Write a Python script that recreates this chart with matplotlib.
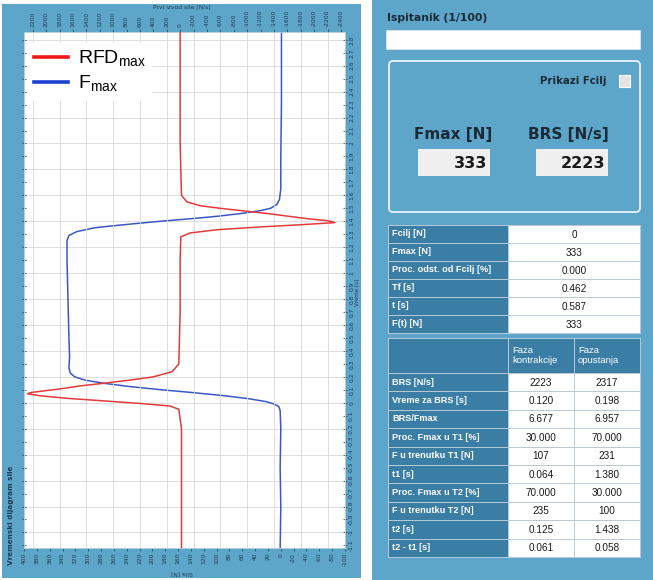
import matplotlib
matplotlib.use("Agg")
import matplotlib.pyplot as plt
from matplotlib.patches import Rectangle, FancyBboxPatch
from matplotlib.lines import Line2D
import numpy as np

# ---------------- data ----------------
# Force (blue) vs time
force_t = [-1.12, -0.8, -0.5, -0.2, -0.06, -0.03, -0.01, 0.01, 0.03, 0.05, 0.064, 0.08,
           0.10, 0.125, 0.15, 0.175, 0.20, 0.23, 0.27, 0.35, 0.5, 0.7, 0.9, 1.1, 1.25,
           1.29, 1.32, 1.35, 1.365, 1.38, 1.40, 1.42, 1.438, 1.46, 1.48, 1.50, 1.53,
           1.57, 1.65, 1.9, 2.3, 2.86]
force_v = [1, 0, 1, 0, 1, 3, 10, 24, 48, 80, 107, 140,
           185, 235, 275, 305, 321, 328, 330, 329, 330, 331, 332, 333, 333,
           330, 318, 290, 262, 231, 188, 140, 100, 62, 34, 16, 6,
           2, 0, 0, -1, -1]

# Rate of force development (red) vs time
rfd_t = [-1.12, -0.6, -0.2, -0.05, -0.025, -0.005, 0.015, 0.035, 0.055, 0.07, 0.08,
         0.095, 0.11, 0.13, 0.15, 0.175, 0.20, 0.24, 0.30, 0.7, 1.1, 1.28, 1.31,
         1.335, 1.355, 1.375, 1.39, 1.405, 1.42, 1.44, 1.46, 1.48, 1.50, 1.52,
         1.55, 1.60, 2.0, 2.86]
rfd_v = [-20, -20, -20, 20, 150, 600, 1150, 1700, 2100, 2280, 2220,
         1980, 1750, 1500, 1150, 750, 400, 120, 20, 0, 0, -10, -150,
         -550, -1150, -1850, -2310, -2200, -1900, -1600, -1300, -950, -600, -300,
         -100, -20, 0, 0]

force_ticks = list(range(-100, 401, 20))
rfd_ticks = list(range(-2400, 2201, 200))
time_ticks = [round(-1.1 + 0.1 * i, 1) for i in range(40)]
time_grid = [round(-1.0 + 0.2 * i, 1) for i in range(20)]
rfd_grid = list(range(-2200, 2201, 400))

legend_labels = [r"RFD$_{\mathrm{max}}$", r"F$_{\mathrm{max}}$"]

info_labels = ["Fcilj [N]", "Fmax [N]", "Proc. odst. od Fcilj [%]", "Tf [s]", "t [s]", "F(t) [N]"]
info_values = ["0", "333", "0.000", "0.462", "0.587", "333"]

phase_headers = ["Faza\nkontrakcije", "Faza\nopustanja"]
phase_labels = ["BRS [N/s]", "Vreme za BRS [s]", "BRS/Fmax", "Proc. Fmax u T1 [%]",
                "F u trenutku T1 [N]", "t1 [s]", "Proc. Fmax u T2 [%]",
                "F u trenutku T2 [N]", "t2 [s]", "t2 - t1 [s]"]
phase_contraction = ["2223", "0.120", "6.677", "30.000", "107", "0.064", "70.000", "235", "0.125", "0.061"]
phase_release = ["2317", "0.198", "6.957", "70.000", "231", "1.380", "30.000", "100", "1.438", "0.058"]

fmax_value = "333"
brs_value = "2223"

# ---------------- style ----------------
W, H = 653, 580
PANEL = "#5da5c9"
CELL = "#3a7ea6"
TXT = "#1c2a36"
TICK = "#1f3b55"
RED = "#e23a3a"
BLUE = "#3a58c4"

plt.rcParams["mathtext.fontset"] = "custom"
plt.rcParams["mathtext.rm"] = "Liberation Sans"

fig = plt.figure(figsize=(W / 100, H / 100), dpi=100, facecolor="white")

# background overlay in pixel coordinates
bg = fig.add_axes([0, 0, 1, 1], zorder=0)
bg.set_xlim(0, W)
bg.set_ylim(H, 0)
bg.axis("off")

bg.add_patch(Rectangle((2, 4), 359, 574, facecolor=PANEL, edgecolor="none"))
bg.add_patch(Rectangle((372, 0), 281, 580, facecolor=PANEL, edgecolor="none"))


def fx(x):
    return x / W


def fy(y):
    return 1 - y / H


# ---------------- plot ----------------
L, R, T, B = 24, 345, 32, 548
ax = fig.add_axes([fx(L), fy(B), (R - L) / W, (B - T) / H], zorder=2)
ax.set_facecolor("white")
ax.set_xlim(400, -100)
ax.set_ylim(-1.12, 2.86)

for g in time_grid:
    ax.axhline(g, color="#d9d9d9", lw=0.6, zorder=0)

ax.plot(force_v, force_t, color=BLUE, lw=1.1, zorder=3)

ax.set_xticks(force_ticks)
ax.set_xticklabels([str(v) for v in force_ticks], rotation=90)
ax.yaxis.tick_right()
ax.set_yticks(time_ticks)
ax.set_yticklabels(["%g" % v for v in time_ticks], rotation=90, va="center")
ax.tick_params(axis="both", labelsize=4.3, colors=TICK, length=2, width=0.5, pad=1.5)
ax.tick_params(axis="y", left=True, right=True, direction="inout", length=3)
for s in ax.spines.values():
    s.set_color("#b8cfdc")
    s.set_linewidth(0.6)

ax2 = ax.twiny()
ax2.set_xlim(2330, -2460)
for g in rfd_grid:
    ax2.axvline(g, color="#d9d9d9", lw=0.6, zorder=0)
ax2.plot(rfd_v, rfd_t, color=RED, lw=1.1, zorder=4)
ax2.set_xticks(rfd_ticks)
ax2.set_xticklabels([str(v) for v in rfd_ticks], rotation=90)
ax2.tick_params(axis="x", labelsize=4.3, colors=TICK, length=2, width=0.5, pad=1.5)
for s in ax2.spines.values():
    s.set_color("#b8cfdc")
    s.set_linewidth(0.6)

handles = [Line2D([], [], color="#f01818", lw=2.6), Line2D([], [], color="#1f3fd0", lw=2.6)]
leg = ax2.legend(handles, legend_labels, loc="upper left",
                 bbox_to_anchor=(fx(28), fy(43)), bbox_transform=fig.transFigure,
                 frameon=True, fancybox=False, framealpha=1, facecolor="white",
                 edgecolor="white", borderpad=0.3, borderaxespad=0, handlelength=1.75,
                 handletextpad=0.5, labelspacing=0.25,
                 prop={"family": "Liberation Sans", "size": 14})
leg.set_zorder(10)

# axis captions
fig.text(fx(182), fy(7), "Prvi izvod sile [N/s]", fontsize=4.3, color=TICK, ha="center", va="center")
fig.text(fx(182), fy(573), "Sila [N]", fontsize=4.3, color=TICK, ha="center", va="center", rotation=180)
fig.text(fx(11), fy(515), "Vremenski dijagram sile", fontsize=5.2, color=TICK, ha="center",
         va="center", rotation=90, fontweight="bold")
fig.text(fx(357), fy(292), "Vreme [s]", fontsize=4, color=TICK, ha="center", va="center", rotation=90)

# ---------------- right panel ----------------
bold_font = {"family": "DejaVu Sans", "weight": "bold"}
bg.text(387, 18, "Ispitanik (1/100)", fontsize=7.8, color=TXT, ha="left", va="center", **bold_font)
bg.add_patch(Rectangle((386, 30), 254, 19, facecolor="white", edgecolor="#d8e6ee", lw=0.6))

bg.add_patch(FancyBboxPatch((389, 61), 251, 151, boxstyle="round,pad=0,rounding_size=4",
                            facecolor="none", edgecolor="#eaf3f8", lw=1.3))
bg.text(607, 81, "Prikazi Fcilj", fontsize=7.3, color=TXT, ha="right", va="center", **bold_font)
bg.add_patch(Rectangle((619, 75), 11, 12, facecolor="#e4e4e4", edgecolor="white", lw=0.8))

bg.text(453, 135, "Fmax [N]", fontsize=11, color=TXT, ha="center", va="center", **bold_font)
bg.text(568, 135, "BRS [N/s]", fontsize=11, color=TXT, ha="center", va="center", **bold_font)
bg.add_patch(Rectangle((418, 149), 72, 27, facecolor="#efefef", edgecolor="none"))
bg.add_patch(Rectangle((536, 149), 72, 27, facecolor="#efefef", edgecolor="none"))
bg.text(487, 163, fmax_value, fontsize=11.5, color="#1a1a1a", ha="right", va="center", **bold_font)
bg.text(605, 163, brs_value, fontsize=11.5, color="#1a1a1a", ha="right", va="center", **bold_font)

label_font = {"family": ["Liberation Sans Narrow", "Liberation Sans"], "weight": "bold"}
value_font = {"family": "Liberation Sans"}
LINE = "#b9c9d3"

# table 1
x0, x1, x2 = 388, 508, 640
y = 225
rh = 18
for lab, val in zip(info_labels, info_values):
    bg.add_patch(Rectangle((x0, y), x1 - x0, rh, facecolor=CELL, edgecolor=LINE, lw=0.7))
    bg.add_patch(Rectangle((x1, y), x2 - x1, rh, facecolor="white", edgecolor=LINE, lw=0.7))
    bg.text(x0 + 4, y + rh / 2, lab, fontsize=6.6, color="white", ha="left", va="center", **label_font)
    bg.text((x1 + x2) / 2, y + rh / 2 + 0.5, val, fontsize=7.2, color="#1a1a1a", ha="center",
            va="center", **value_font)
    y += rh

# table 2
c0, c1, c2, c3 = 388, 508, 574, 640
hy, hh = 338, 35
bg.add_patch(Rectangle((c0, hy), c1 - c0, hh, facecolor=CELL, edgecolor=LINE, lw=0.7))
bg.add_patch(Rectangle((c1, hy), c2 - c1, hh, facecolor=CELL, edgecolor=LINE, lw=0.7))
bg.add_patch(Rectangle((c2, hy), c3 - c2, hh, facecolor=CELL, edgecolor=LINE, lw=0.7))
bg.text(c1 + 4, hy + hh / 2, phase_headers[0], fontsize=6.8, color="white", ha="left",
        va="center", linespacing=1.05, family="Liberation Sans")
bg.text(c2 + 4, hy + hh / 2, phase_headers[1], fontsize=6.8, color="white", ha="left",
        va="center", linespacing=1.05, family="Liberation Sans")
y = hy + hh
rh2 = 18.4
for lab, v1, v2 in zip(phase_labels, phase_contraction, phase_release):
    bg.add_patch(Rectangle((c0, y), c1 - c0, rh2, facecolor=CELL, edgecolor=LINE, lw=0.7))
    bg.add_patch(Rectangle((c1, y), c2 - c1, rh2, facecolor="white", edgecolor=LINE, lw=0.7))
    bg.add_patch(Rectangle((c2, y), c3 - c2, rh2, facecolor="white", edgecolor=LINE, lw=0.7))
    bg.text(c0 + 4, y + rh2 / 2, lab, fontsize=6.6, color="white", ha="left", va="center", **label_font)
    bg.text((c1 + c2) / 2, y + rh2 / 2 + 0.5, v1, fontsize=7.2, color="#1a1a1a", ha="center",
            va="center", **value_font)
    bg.text((c2 + c3) / 2, y + rh2 / 2 + 0.5, v2, fontsize=7.2, color="#1a1a1a", ha="center",
            va="center", **value_font)
    y += rh2

fig.savefig("out.png", dpi=100, facecolor=fig.get_facecolor())
